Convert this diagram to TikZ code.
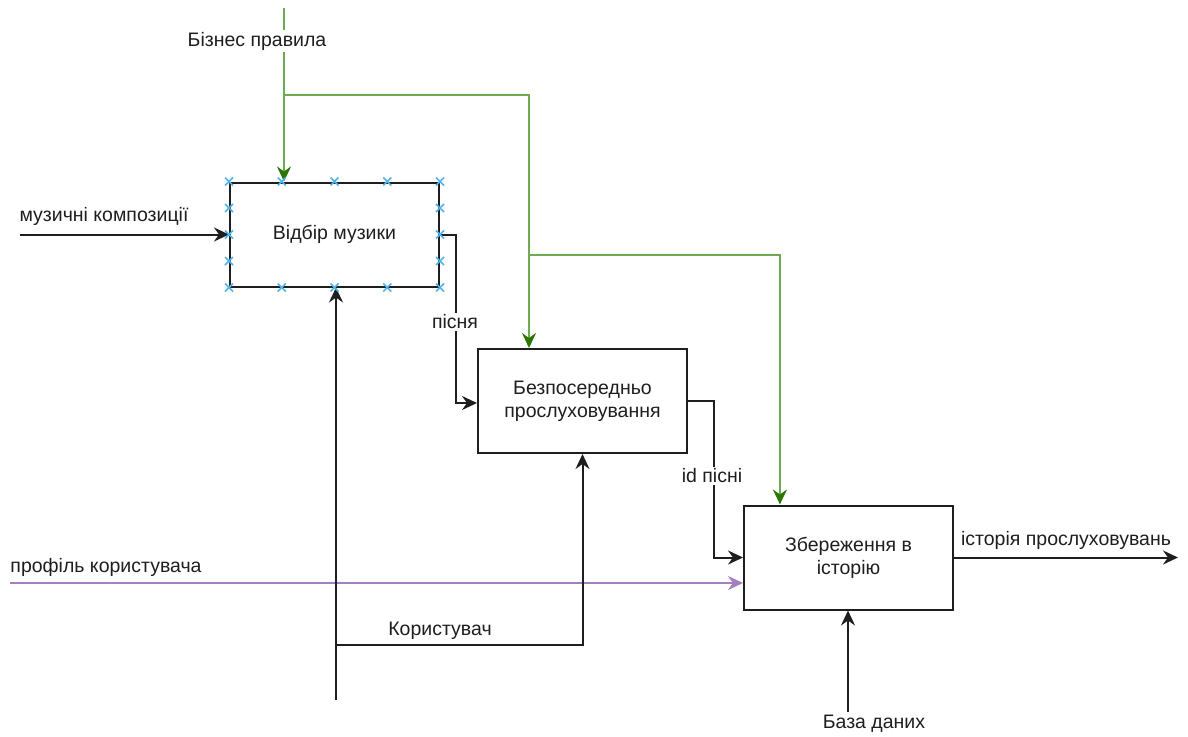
\documentclass[tikz,border=0pt]{standalone}
\usepackage{fontspec}
\setmainfont{Liberation Sans}
\usetikzlibrary{arrows.meta,calc}
\definecolor{lineblk}{RGB}{30,30,30}
\definecolor{greenline}{RGB}{110,170,80}
\definecolor{greenhead}{RGB}{45,118,0}
\definecolor{purpleline}{RGB}{164,128,188}
\definecolor{handleblue}{RGB}{80,180,235}
\begin{document}
\begin{tikzpicture}[x=1pt,y=-1pt,
  txt/.style={font=\fontsize{19.5}{23}\selectfont, text=lineblk, inner sep=2pt},
  proc/.style={txt, draw=lineblk, line width=2pt, minimum width=209pt, minimum height=104pt, align=center},
  lbl/.style={txt, fill=white},
  tip/.style={-{Stealth[length=15pt,width=14pt,inset=5pt]}},
  flow/.style={draw=lineblk, line width=2pt, tip},
  ctrl/.style={draw=greenline, line width=2pt, -{Stealth[length=15pt,width=14pt,inset=5pt,color=greenhead]}},
  prof/.style={draw=purpleline, line width=2pt, tip},
  handle/.pic={\draw[handleblue, line width=1.5pt] (-4,-4) -- (4,4) (-4,4) -- (4,-4);}
]
\useasboundingbox (0,0) rectangle (1188,736);

% activity boxes
\node[proc] (b1) at (334.5,234.5) {Відбір музики};
\node[proc] (b2) at (582.5,401) {Безпосередньо\\прослуховування};
\node[proc] (b3) at (848.5,557.5) {Збереження в\\історію};

% free ends of the boundary arrows
\coordinate (brTop) at (284,8);
\coordinate (brSplit) at (284,95);
\coordinate (brDown) at (529,255);
\coordinate (inMus) at (20,234.5);
\coordinate (inProf) at (10,583);
\coordinate (mUser) at (336,700);
\coordinate (uSplit) at (336,645);
\coordinate (outHist) at (1178,557.5);
\coordinate (db) at (848,712);

% controls: business rules
\draw[ctrl] (brTop) -- (brTop |- b1.north);
\draw[ctrl] (brSplit) -| (brDown |- b2.north);
\draw[ctrl] (brDown) -| ($(b3.north west)!0.175!(b3.north east)$);
\node[lbl] (lRules) at (257,41) {Бізнес правила};

% inputs
\draw[flow] (inMus) -- (b1.west);
\node[txt] (lMus) at (104,216) {музичні композиції};
\draw[prof] (inProf) -- (inProf -| b3.west);
\node[txt] (lProf) at (106,567) {профіль користувача};

% flows between activities
\draw[flow] (b1.east) -- ++(16,0) |- ($(b2.west)+(0,2)$);
\node[lbl] (lSong) at (455,322) {пісня};
\draw[flow] (b2.east) -- ++(25.5,0) |- (b3.west);
\node[lbl] (lSongId) at (712,476) {id пісні};

% mechanism: user
\draw[flow] (mUser) -- (mUser |- b1.south);
\draw[flow] (uSplit) -| (b2.south);
\node[txt] (lUser) at (440,631) {Користувач};

% output and database
\draw[flow] (b3.east) -- (outHist);
\node[txt] (lHist) at (1066,540) {історія прослуховувань};
\draw[flow] (db) -- (db |- b3.south);
\node[txt] (lDb) at (874,724) {База даних};

% selection handles on the first box
\foreach \t in {0,0.25,0.5,0.75,1} {
  \pic at ($(b1.north west)!\t!(b1.north east)$) {handle};
  \pic at ($(b1.south west)!\t!(b1.south east)$) {handle};
}
\foreach \t in {0.25,0.5,0.75} {
  \pic at ($(b1.north west)!\t!(b1.south west)$) {handle};
  \pic at ($(b1.north east)!\t!(b1.south east)$) {handle};
}
\end{tikzpicture}
\end{document}
